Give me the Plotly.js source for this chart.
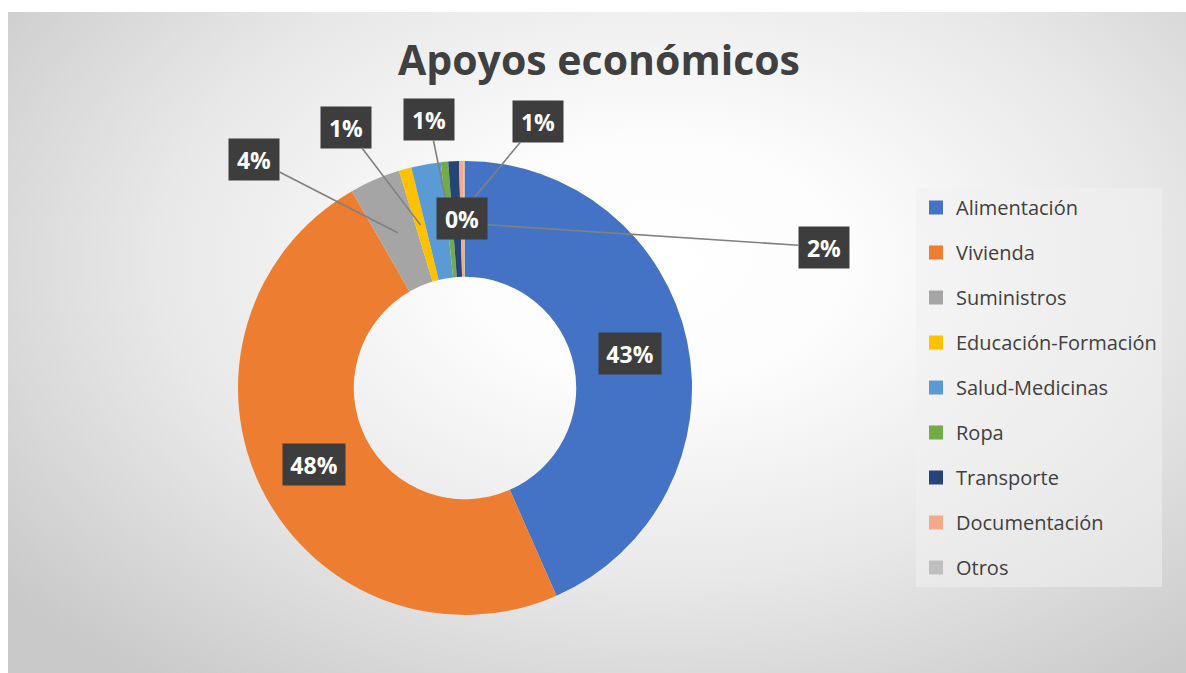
<!DOCTYPE html>
<html>
<head>
<meta charset="utf-8">
<script src="https://cdn.plot.ly/plotly-3.0.1.min.js"></script>
<style>
  html, body { margin:0; padding:0; background:#ffffff; }
  #frame {
    position:absolute; left:8px; top:12px; width:1178px; height:661px;
    background: radial-gradient(ellipse 70% 80% at 55% 38%, #ffffff 0%, #fcfcfc 24%, #e8e8e8 60%, #c9c9c9 100%);
  }
  #chart { position:absolute; left:0; top:0; width:1186px; height:673px; }
</style>
</head>
<body>
<div id="frame"></div>
<div id="chart"></div>
<script>
// ---- data ----
const categories = ['Alimentación','Vivienda','Suministros','Educación-Formación','Salud-Medicinas','Ropa','Transporte','Documentación','Otros'];
const values = [43.4, 48.3, 3.6, 0.9, 2.1, 0.52, 0.76, 0.3, 0.12];
const colors = ['#4472C4','#ED7D31','#A5A5A5','#FFC000','#5B9BD5','#70AD47','#264478','#F4A98A','#BFBFBF'];
const chartTitle = 'Apoyos económicos';

// ---- layout constants (positions, not data) ----
const W = 1186, H = 673;
const CX = 465, CY = 388, R = 227, HOLE = 0.49;
// label box centres in px; 'centroid' = placed on the slice itself
const labelPlacement = {
  'Alimentación': 'centroid',
  'Vivienda': 'centroid',
  'Suministros': [254, 159],
  'Educación-Formación': [346, 127],
  'Salud-Medicinas': [824, 247],
  'Ropa': [429, 119],
  'Transporte': [538, 121],
  'Documentación': 'centroid'
};
const drawOrder = ['Alimentación','Vivienda','Suministros','Educación-Formación','Salud-Medicinas','Ropa','Transporte','Documentación'];

const total = values.reduce((a,b)=>a+b,0);
const midR = R*(1+HOLE)/2;
function centroid(i){
  let before = 0;
  for (let k=0;k<i;k++) before += values[k];
  const frac = (before + values[i]/2)/total;
  const ang = frac*2*Math.PI; // clockwise from 12 o'clock
  return [CX + midR*Math.sin(ang), CY - midR*Math.cos(ang)];
}

const annotations = [];
drawOrder.forEach(name => {
  const i = categories.indexOf(name);
  const txt = Math.round(values[i]/total*100) + '%';
  const c = centroid(i);
  const p = labelPlacement[name];
  const base = {
    text: '<b>' + txt + '</b>',
    font: {family:'Open Sans', size:23, color:'#ffffff'},
    bgcolor: '#3d3d3d',
    borderpad: 6,
    width: txt.length > 2 ? 50 : 38,
    height: 29,
    xref: 'x', yref: 'y'
  };
  if (p === 'centroid') {
    annotations.push(Object.assign(base, {x:c[0], y:c[1], showarrow:false}));
  } else {
    annotations.push(Object.assign(base, {
      x:c[0], y:c[1], ax:p[0], ay:p[1], axref:'x', ayref:'y',
      showarrow:true, arrowhead:0, arrowwidth:1.6, arrowcolor:'#808080', standoff:0, startstandoff:0
    }));
  }
});

const traces = [{
  type:'pie',
  labels: categories,
  values: values,
  marker: {colors: colors, line:{width:0}},
  hole: HOLE,
  sort: false,
  direction: 'clockwise',
  rotation: 0,
  textinfo: 'none',
  showlegend: false,
  domain: {
    x: [(CX-R)/W, (CX+R)/W],
    y: [(H-CY-R)/H, (H-CY+R)/H]
  },
  hovertemplate: '%{label}: %{percent}<extra></extra>'
}];
categories.forEach((name, i) => {
  traces.push({
    type:'scatter', mode:'markers', x:[-1000], y:[-1000],
    name: name, legendgroup: 'g'+i,
    marker:{symbol:'square', size:14, color:colors[i]},
    hoverinfo:'skip'
  });
});

const layout = {
  width: W, height: H,
  margin: {l:0, r:0, t:0, b:0},
  paper_bgcolor: 'rgba(0,0,0,0)',
  plot_bgcolor: 'rgba(0,0,0,0)',
  xaxis: {range:[0,W], visible:false, fixedrange:true},
  yaxis: {range:[H,0], visible:false, fixedrange:true},
  title: {
    text: chartTitle,
    font: {family:'Open Sans', size:41, color:'#404040', weight:700},
    x: 599/W, xanchor:'center', y: 1-61/H, yanchor:'middle'
  },
  showlegend: true,
  legend: {
    x: 916/W, xanchor:'left', y: 1-188/H, yanchor:'top',
    bgcolor: 'rgba(240,240,240,0.55)',
    font: {family:'Open Sans', size:20, color:'#404040'},
    tracegroupgap: 16,
    traceorder: 'grouped',
    itemclick: false, itemdoubleclick: false
  },
  annotations: annotations
};

Plotly.newPlot('chart', traces, layout, {displayModeBar:false});
</script>
</body>
</html>
